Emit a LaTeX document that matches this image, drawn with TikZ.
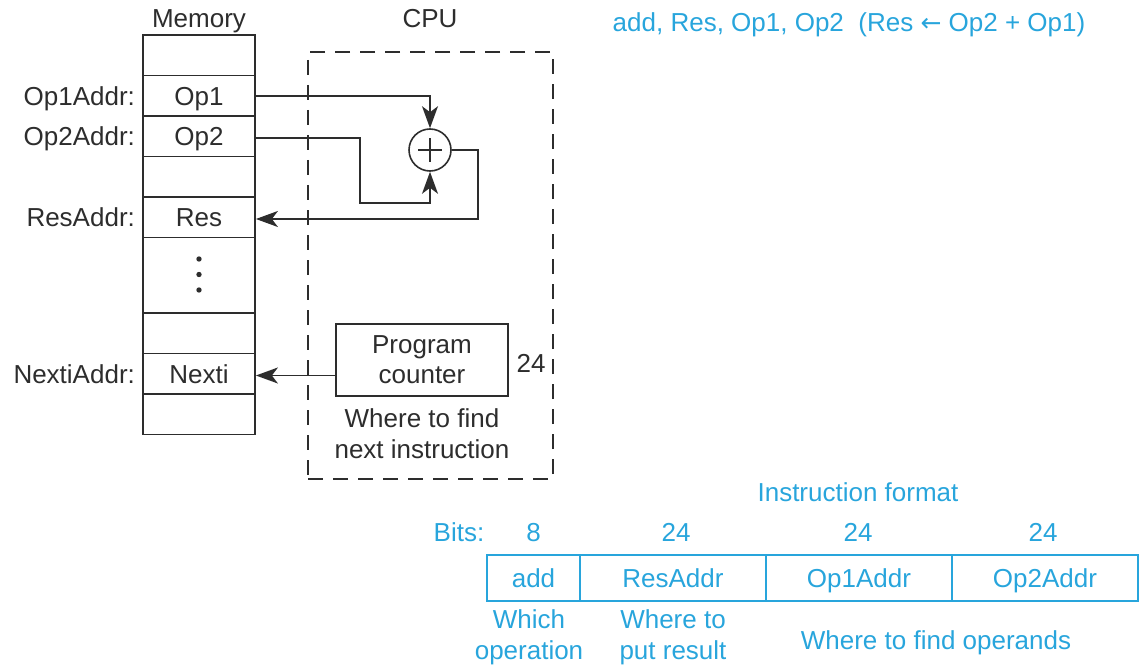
\documentclass[tikz,border=0pt]{standalone}
\usepackage{fontspec}
\setmainfont{Liberation Sans}
\newfontfamily\arrfont{DejaVu Sans}
\usetikzlibrary{arrows.meta,calc}
\definecolor{ink}{RGB}{45,45,45}
\definecolor{cy}{RGB}{40,165,220}
\begin{document}
\begin{tikzpicture}[x=1pt,y=-1pt,
  txt/.style={inner sep=0pt, text=ink, font=\fontsize{26}{31}\selectfont, align=center},
  lbl/.style={inner sep=0pt, text=ink, font=\fontsize{26}{31}\selectfont, text height=18.6pt, text depth=0pt},
  btxt/.style={inner sep=0pt, text=cy, font=\fontsize{26}{31}\selectfont, align=center},
  blbl/.style={inner sep=0pt, text=cy, font=\fontsize{26}{31}\selectfont, text height=18.6pt, text depth=0pt},
  cell/.style={draw=ink, line width=1.8pt, minimum width=112pt, minimum height=40.5pt, inner sep=0pt, text=ink, font=\fontsize{26}{31}\selectfont, text height=18.6pt, text depth=0pt},
  field/.style={draw=cy, line width=1.6pt, minimum height=46pt, inner sep=0pt, text=cy, font=\fontsize{26}{31}\selectfont, text height=18.6pt, text depth=0pt},
  arr/.style={draw=ink, line width=1.6pt, -{Stealth[length=22pt,width=16pt,inset=6pt]}},
  wire/.style={draw=ink, line width=1.6pt}
]
\useasboundingbox (0,0) rectangle (1141,666);

% Memory
\node[lbl] (memlbl) at (199,18) {Memory};
\node[cell] (m0) at (199,55.25) {};
\node[cell] (m1) at (199,95.75) {Op1};
\node[cell] (m2) at (199,136.25) {Op2};
\node[cell] (m3) at (199,176.75) {};
\node[cell] (m4) at (199,217.25) {Res};
\node[cell, minimum height=75.5pt] (m5) at (199,275.25) {};
\node[cell] (m6) at (199,333.25) {};
\node[cell] (m7) at (199,373.75) {Nexti};
\node[cell] (m8) at (199,414.25) {};
\foreach \yy in {259,274.5,290} \fill[ink] (199,\yy) circle (2.7pt);

\node[lbl, anchor=east] (l1) at ([xshift=-7pt]m1.west) {Op1Addr:};
\node[lbl, anchor=east] (l2) at ([xshift=-7pt]m2.west) {Op2Addr:};
\node[lbl, anchor=east] (l4) at ([xshift=-7pt]m4.west) {ResAddr:};
\node[lbl, anchor=east] (l7) at ([xshift=-7pt]m7.west) {NextiAddr:};

% CPU
\node[lbl] (cpulbl) at (430,18) {CPU};
\node[draw=ink, line width=2pt, dash pattern=on 15pt off 10pt, minimum width=245pt, minimum height=427pt] (cpu) at (430.5,265.5) {};

\node[draw=ink, circle, line width=1.6pt, minimum size=42pt, inner sep=0pt] (add) at (430,150) {};
\draw[wire, line width=1.2pt] ([xshift=-12pt]add.center) -- ([xshift=12pt]add.center);
\draw[wire, line width=1.2pt] ([yshift=-12pt]add.center) -- ([yshift=12pt]add.center);

\coordinate (c1a) at (430,96);
\coordinate (c2a) at (360,138);
\coordinate (c2b) at (360,203);
\coordinate (c3a) at (478,150);

\draw[arr] (m1.east |- c1a) -| (add.north);
\draw[arr] (m2.east |- c2a) -- (c2a) -- (c2b) -| (add.south);
\draw[arr] (add.east) -- (c3a) |- ([yshift=-1.75pt]m4.east);

\node[draw=ink, line width=2pt, minimum width=172pt, minimum height=72pt, inner sep=0pt, text=ink, font=\fontsize{26}{30}\selectfont, align=center] (pc) at (422,360) {Program\\counter};
\node[lbl] (pc24) at (531,363) {24};
\node[txt] (pcnote) at (422,434) {Where to find\\next instruction};
\draw[arr] ([yshift=-1.75pt]m7.east -| pc.west) -- ([yshift=-1.75pt]m7.east);

% Instruction
\node[blbl] (instr) at (849,22) {add, Res, Op1, Op2\ \ (Res {\arrfont\fontsize{25}{26}\selectfont ←} Op2 + Op1)};
\node[blbl] (fmt) at (858,492) {Instruction format};
\node[blbl] (bits) at (459,532) {Bits:};
\node[field, minimum width=93pt] (f1) at (533.5,578) {add};
\node[field, minimum width=186pt] (f2) at (673,578) {ResAddr};
\node[field, minimum width=186pt] (f3) at (859,578) {Op1Addr};
\node[field, minimum width=186pt] (f4) at (1045,578) {Op2Addr};
\node[blbl] (b1) at (533.5,532) {8};
\node[blbl] (b2) at (676,532) {24};
\node[blbl] (b3) at (858,532) {24};
\node[blbl] (b4) at (1043,532) {24};
\node[btxt] (d1) at (529,637) {Which\\operation};
\node[btxt] (d2) at (673,637) {Where to\\put result};
\node[blbl] (d3) at (936,640) {Where to find operands};
\end{tikzpicture}
\end{document}
